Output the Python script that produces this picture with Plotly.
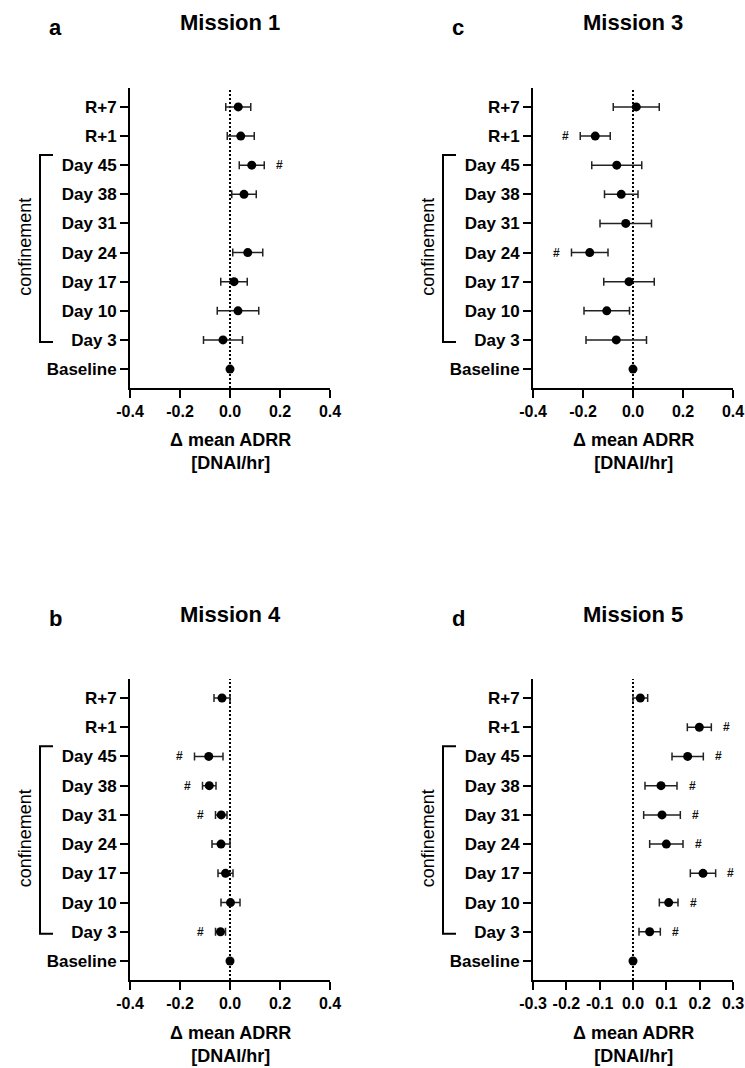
import plotly.graph_objects as go

W, H = 745, 1068

categories = ["Baseline", "Day 3", "Day 10", "Day 17", "Day 24", "Day 31",
              "Day 38", "Day 45", "R+1", "R+7"]

# Mission 1
m1_mean = [0, -0.028, 0.032, 0.016, 0.071, None, 0.056, 0.087, 0.043, 0.033]
m1_err = [None, 0.078, 0.083, 0.053, 0.060, None, 0.049, 0.050, 0.054, 0.050]
m1_sig = [False, False, False, False, False, False, False, True, False, False]

# Mission 3
m3_mean = [0, -0.067, -0.105, -0.016, -0.173, -0.029, -0.047, -0.065, -0.151, 0.013]
m3_err = [None, 0.121, 0.091, 0.101, 0.073, 0.103, 0.067, 0.100, 0.060, 0.092]
m3_sig = [False, False, False, False, True, False, False, False, True, False]

# Mission 4
m4_mean = [0, -0.038, 0.002, -0.018, -0.036, -0.035, -0.083, -0.085, None, -0.032]
m4_err = [None, 0.020, 0.038, 0.030, 0.036, 0.023, 0.027, 0.057, None, 0.032]
m4_sig = [False, True, False, False, False, True, True, True, False, False]

# Mission 5
m5_mean = [0, 0.050, 0.107, 0.210, 0.100, 0.087, 0.084, 0.164, 0.199, 0.022]
m5_err = [None, 0.032, 0.028, 0.038, 0.050, 0.055, 0.048, 0.047, 0.036, 0.022]
m5_sig = [False, True, True, True, True, True, True, True, True, False]

xticks_a = [-0.4, -0.2, 0.0, 0.2, 0.4]
xticks_d = [-0.3, -0.2, -0.1, 0.0, 0.1, 0.2, 0.3]

FONT = "Liberation Sans, Arial, sans-serif"


def px(x):
    return x / W


def py(y):
    return 1 - y / H


panels = [
    dict(title="Mission 1", letter="a", mean=m1_mean, err=m1_err, sig=m1_sig,
         ticks=xticks_a, xr=[-0.4, 0.4], x0=130, x1=330, y0=88, y1=388),
    dict(title="Mission 3", letter="c", mean=m3_mean, err=m3_err, sig=m3_sig,
         ticks=xticks_a, xr=[-0.4, 0.4], x0=533, x1=733, y0=88, y1=388),
    dict(title="Mission 4", letter="b", mean=m4_mean, err=m4_err, sig=m4_sig,
         ticks=xticks_a, xr=[-0.4, 0.4], x0=130, x1=330, y0=679, y1=980),
    dict(title="Mission 5", letter="d", mean=m5_mean, err=m5_err, sig=m5_sig,
         ticks=xticks_d, xr=[-0.3, 0.3], x0=533, x1=733, y0=679, y1=980),
]

fig = go.Figure()
annotations = []
shapes = []
layout = {}

for i, p in enumerate(panels, start=1):
    sx = "" if i == 1 else str(i)
    xa, ya = "x" + sx, "y" + sx
    fig.add_trace(go.Scatter(
        x=p["mean"], y=categories, mode="markers",
        marker=dict(color="black", size=9),
        error_x=dict(type="data", array=p["err"], color="#222222",
                     thickness=1.5, width=4),
        xaxis=xa, yaxis=ya, showlegend=False, cliponaxis=False,
        hoverinfo="skip"))

    layout["xaxis" + sx] = dict(
        domain=[px(p["x0"]), px(p["x1"])], anchor=ya, range=p["xr"],
        tickvals=p["ticks"], ticktext=[f"{t:.1f}" for t in p["ticks"]],
        showline=True, linecolor="black", linewidth=2, automargin=False,
        ticks="outside", ticklen=8, tickwidth=2, tickcolor="black",
        showgrid=False, zeroline=False,
        tickfont=dict(family=FONT, size=16, color="black", weight="bold"))
    layout["yaxis" + sx] = dict(
        domain=[py(p["y1"]), py(p["y0"])], anchor=xa, type="category",
        categoryorder="array", categoryarray=categories,
        range=[-0.65, 9.65], automargin=False,
        showline=True, linecolor="black", linewidth=2,
        ticks="outside", ticklen=8, tickwidth=2, tickcolor="black",
        showgrid=False, zeroline=False,
        tickfont=dict(family=FONT, size=17, color="black", weight="bold"))

    # dotted zero line
    shapes.append(dict(type="line", xref=xa, yref=ya + " domain",
                       x0=0, x1=0, y0=0, y1=1, layer="below",
                       line=dict(color="black", width=2, dash="2px,2px")))

    # significance marks
    for c, m, e, s in zip(categories, p["mean"], p["err"], p["sig"]):
        if s and m is not None:
            sign = 1 if m > 0 else -1
            annotations.append(dict(
                x=m + sign * (e or 0), y=c, xref=xa, yref=ya,
                xshift=sign * 15, text="<b>#</b>", showarrow=False,
                font=dict(family=FONT, size=12, color="#111111")))

    cx = (p["x0"] + p["x1"]) / 2
    # title
    annotations.append(dict(
        x=px(cx), y=py(p["y0"] - 65), xref="paper", yref="paper",
        text="<b>" + p["title"] + "</b>", showarrow=False,
        xanchor="center", yanchor="middle",
        font=dict(family=FONT, size=22, color="black")))
    # panel letter
    annotations.append(dict(
        x=px(p["x0"] - 75), y=py(p["y0"] - 61), xref="paper", yref="paper",
        text="<b>" + p["letter"] + "</b>", showarrow=False,
        xanchor="center", yanchor="middle",
        font=dict(family=FONT, size=22, color="black")))
    # axis title
    annotations.append(dict(
        x=px(cx), y=py(p["y1"] + 64), xref="paper", yref="paper",
        text="<b>\u0394 mean ADRR<br>[DNAI/hr]</b>", showarrow=False,
        xanchor="center", yanchor="middle",
        font=dict(family=FONT, size=18, color="black")))
    # bracket
    bx0 = p["x0"] - 90
    bx1 = p["x0"] - 77
    shapes.append(dict(type="path", xref="paper", yref=ya,
                       path=f"M {px(bx1)},7.35 L {px(bx0)},7.35 L {px(bx0)},0.93 L {px(bx1)},0.93",
                       line=dict(color="black", width=2)))
    annotations.append(dict(
        x=px(p["x0"] - 105), y=4.2, xref="paper", yref=ya,
        text="confinement", textangle=-90, showarrow=False,
        xanchor="center", yanchor="middle",
        font=dict(family=FONT, size=18, color="black")))

fig.update_layout(
    width=W, height=H, margin=dict(l=0, r=0, t=0, b=0, autoexpand=False),
    paper_bgcolor="white", plot_bgcolor="white",
    annotations=annotations, shapes=shapes, **layout)

fig.write_html("out.html")
